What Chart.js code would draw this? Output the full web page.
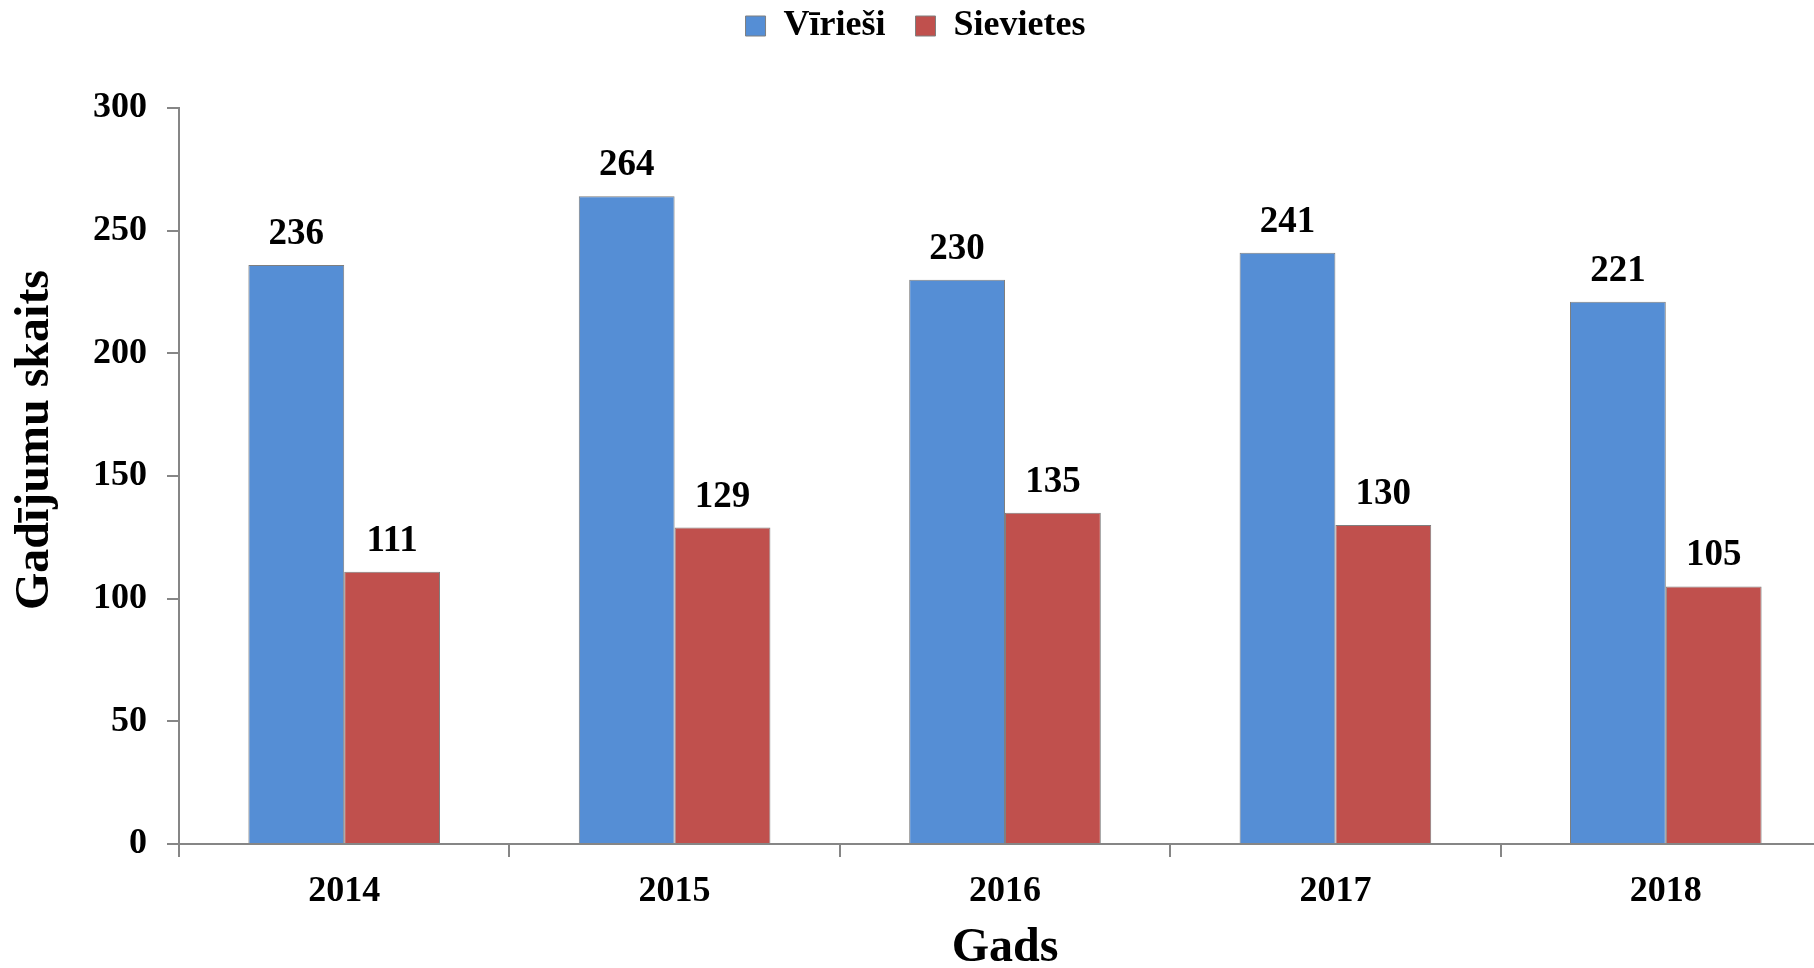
<!DOCTYPE html>
<html>
<head>
<meta charset="utf-8">
<script src="https://cdn.jsdelivr.net/npm/chart.js@4"></script>
<style>
  html, body { margin: 0; padding: 0; background: #fff; overflow: hidden; }
  #grafiks { display: block; }
</style>
</head>
<body>
<canvas id="grafiks" width="1840" height="968"></canvas>
<script>
const gadi = ['2014', '2015', '2016', '2017', '2018'];
const virieši = [236, 264, 230, 241, 221];
const sievietes = [111, 129, 135, 130, 105];
const yTicks = [0, 50, 100, 150, 200, 250, 300];

const fonts = 'Liberation Serif, Times New Roman, serif';
const asuKrasa = '#868686';

// vērtības virs stabiņiem
const vertibuUzraksti = {
  id: 'vertibuUzraksti',
  afterDatasetsDraw(chart) {
    const ctx = chart.ctx;
    ctx.save();
    ctx.font = 'bold 37px ' + fonts;
    ctx.fillStyle = '#000';
    ctx.textAlign = 'center';
    ctx.textBaseline = 'bottom';
    chart.data.datasets.forEach((ds, i) => {
      chart.getDatasetMeta(i).data.forEach((bar, j) => {
        ctx.fillText(ds.data[j], bar.x, bar.y - 12);
      });
    });
    ctx.restore();
  }
};

const ctx = document.getElementById('grafiks').getContext('2d');
const grafiks = new Chart(ctx, {
  type: 'bar',
  data: {
    labels: gadi,
    datasets: [{
      label: 'Vīrieši',
      data: virieši,
      backgroundColor: '#558ED5',
      borderColor: '#7f7f7f',
      borderWidth: 1
    }, {
      label: 'Sievietes',
      data: sievietes,
      backgroundColor: '#C0504D',
      borderColor: '#7f7f7f',
      borderWidth: 1
    }]
  },
  options: {
    responsive: false,
    animation: false,
    layout: { padding: { left: 0, right: 9, top: -22, bottom: 0 } },
    categoryPercentage: 0.58,
    barPercentage: 1,
    scales: {
      x: {
        grid: { drawOnChartArea: false, tickLength: 13, color: asuKrasa, lineWidth: 2 },
        border: { color: asuKrasa, width: 2 },
        ticks: { color: '#000', padding: 13, font: { family: fonts, size: 36, weight: 'bold' } },
        title: {
          display: true,
          text: 'Gads',
          color: '#000',
          padding: { top: 0, bottom: -5 },
          font: { family: fonts, size: 48, weight: 'bold', lineHeight: 1.0 }
        },
        afterFit(scale) { scale.height = 124; }
      },
      // tukša augšējā ass - atstarpe starp leģendu un grafiku
      atstarpe: {
        type: 'category',
        position: 'top',
        grid: { display: false },
        border: { display: false },
        ticks: { display: false },
        afterFit(scale) { scale.height = 54; }
      },
      y: {
        min: 0,
        max: 300,
        afterBuildTicks(scale) { scale.ticks = yTicks.map(v => ({ value: v })); },
        grid: { drawOnChartArea: false, tickLength: 12, color: asuKrasa, lineWidth: 2 },
        border: { color: asuKrasa, width: 2 },
        ticks: { color: '#000', padding: 20, font: { family: fonts, size: 36, weight: 'bold' } },
        title: {
          display: true,
          // atstarpes priekšā - nosaukums nedaudz virs centra, kā oriģinālā
          text: '      Gadījumu skaits',
          color: '#000',
          padding: { top: 12, bottom: 0 },
          font: { family: fonts, size: 48, weight: 'bold', lineHeight: 1.0 }
        },
        afterFit(scale) { scale.width = 179; }
      }
    },
    plugins: {
      legend: {
        display: true,
        position: 'top',
        labels: {
          color: '#000',
          boxWidth: 20,
          boxHeight: 20,
          padding: 30,
          font: { family: fonts, size: 36, weight: 'bold' }
        }
      },
      tooltip: { enabled: false }
    }
  },
  plugins: [vertibuUzraksti]
});
</script>
</body>
</html>
